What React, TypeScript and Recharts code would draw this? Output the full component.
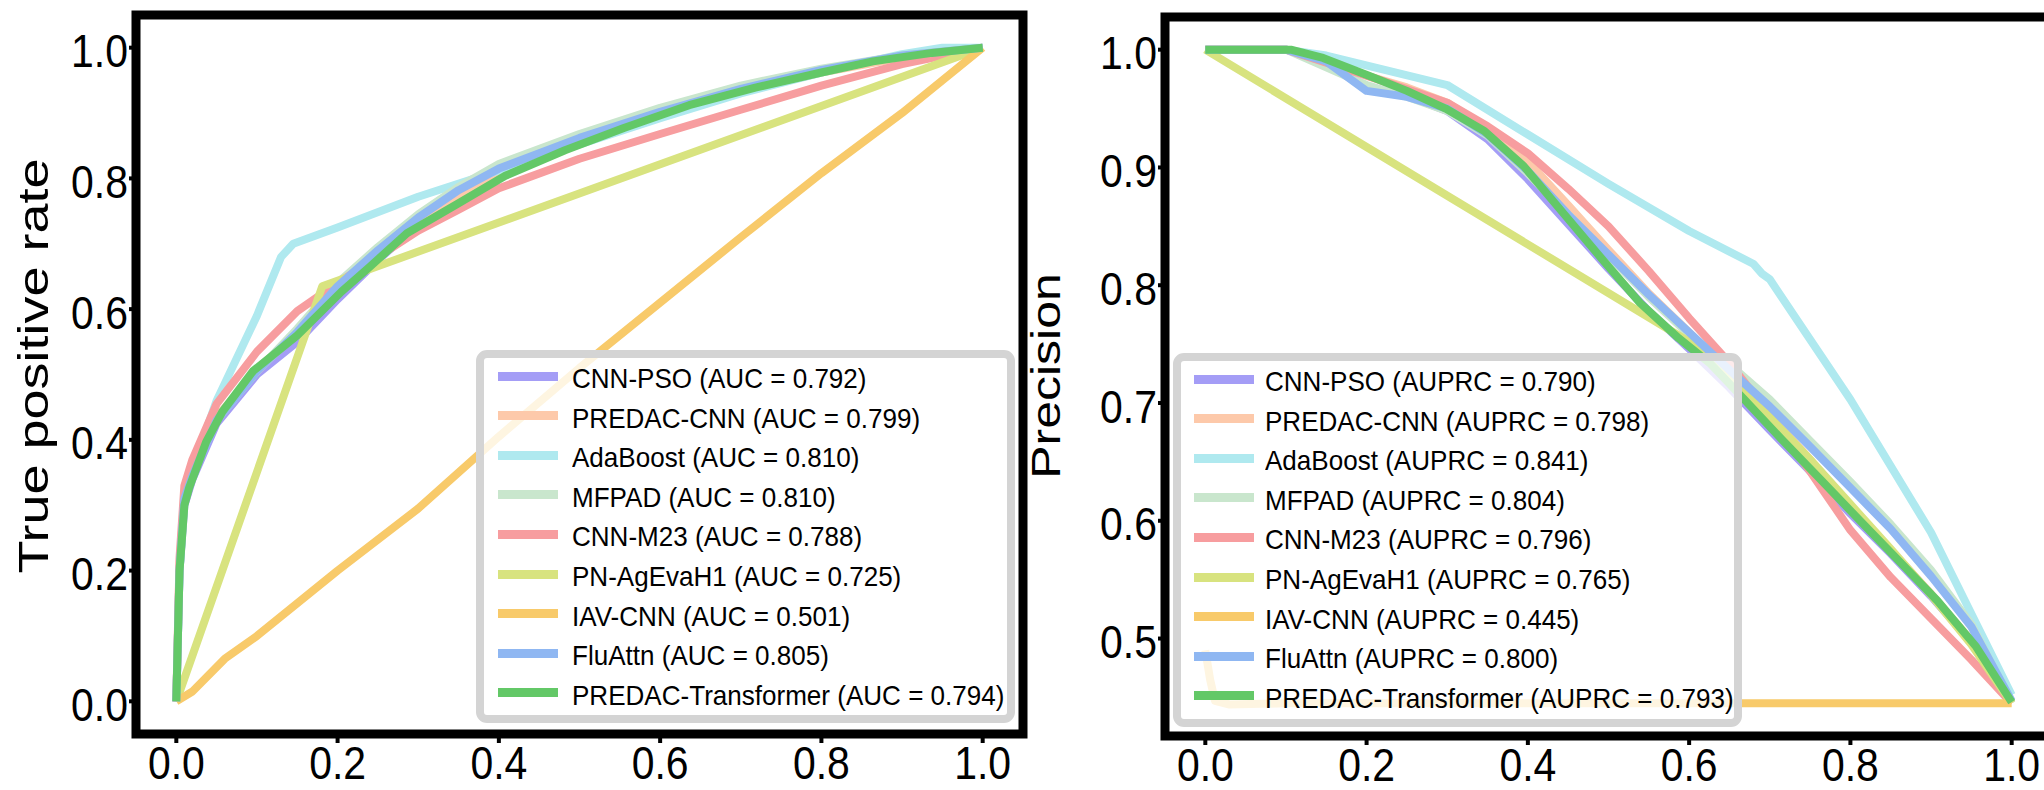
import React from "react";
import {
  LineChart,
  Line,
  XAxis,
  YAxis,
  ReferenceArea,
  Legend,
} from "recharts";

type Pt = [number, number];

// model names, in plotting order (last one drawn on top)
const modelNames = [
  "CNN-PSO",
  "PREDAC-CNN",
  "AdaBoost",
  "MFPAD",
  "CNN-M23",
  "PN-AgEvaH1",
  "IAV-CNN",
  "FluAttn",
  "PREDAC-Transformer",
];
const rocAuc = ["0.792", "0.799", "0.810", "0.810", "0.788", "0.725", "0.501", "0.805", "0.794"];
const prcAuprc = ["0.790", "0.798", "0.841", "0.804", "0.796", "0.765", "0.445", "0.800", "0.793"];
const modelColors = [
  "#a49df6",
  "#fdc9aa",
  "#afe9ef",
  "#c9e6cd",
  "#f79d9f",
  "#d8e37f",
  "#f8ca6a",
  "#8fb7f2",
  "#63c867",
];

const xTicks = [0, 0.2, 0.4, 0.6, 0.8, 1.0];
const rocTicks = [0, 0.2, 0.4, 0.6, 0.8, 1.0];
const prcTicks = [0.5, 0.6, 0.7, 0.8, 0.9, 1.0];

// ROC: [false positive rate, true positive rate]
const rocCnnPso: Pt[] = [[0,0],[0.004,0.2],[0.01,0.3],[0.02,0.34],[0.05,0.425],[0.1,0.5],[0.15,0.55],[0.2,0.615],[0.25,0.675],[0.3,0.73],[0.35,0.77],[0.4,0.808],[0.5,0.856],[0.6,0.9],[0.7,0.936],[0.8,0.965],[0.9,0.986],[1,1]];
const rocPredacCnn: Pt[] = [[0,0],[0.004,0.21],[0.01,0.31],[0.02,0.35],[0.05,0.435],[0.1,0.505],[0.15,0.565],[0.2,0.625],[0.25,0.68],[0.3,0.73],[0.35,0.772],[0.4,0.808],[0.5,0.855],[0.6,0.895],[0.7,0.932],[0.8,0.962],[0.9,0.985],[1,1]];
const rocAdaBoost: Pt[] = [[0,0],[0.004,0.2],[0.01,0.32],[0.05,0.46],[0.1,0.59],[0.13,0.68],[0.145,0.7],[0.2,0.725],[0.3,0.772],[0.4,0.812],[0.5,0.852],[0.6,0.892],[0.7,0.93],[0.8,0.962],[0.9,0.99],[0.95,1],[1,1]];
const rocMfpad: Pt[] = [[0,0],[0.004,0.2],[0.01,0.31],[0.02,0.35],[0.05,0.43],[0.1,0.505],[0.15,0.57],[0.2,0.64],[0.25,0.695],[0.3,0.745],[0.35,0.787],[0.4,0.822],[0.5,0.868],[0.6,0.908],[0.7,0.942],[0.8,0.968],[0.9,0.988],[1,1]];
const rocCnnM23: Pt[] = [[0,0],[0.004,0.22],[0.01,0.33],[0.02,0.37],[0.05,0.455],[0.1,0.535],[0.15,0.597],[0.2,0.64],[0.25,0.68],[0.3,0.72],[0.35,0.752],[0.4,0.785],[0.5,0.83],[0.6,0.868],[0.7,0.905],[0.8,0.942],[0.9,0.975],[1,1]];
const rocPnAgEvaH1: Pt[] = [[0,0],[0.181,0.635],[1,1]];
const rocIavCnn: Pt[] = [[0,0],[0.02,0.015],[0.06,0.065],[0.1,0.1],[0.2,0.2],[0.3,0.295],[0.4,0.405],[0.5,0.51],[0.6,0.61],[0.7,0.71],[0.8,0.808],[0.9,0.9],[0.95,0.95],[1,1]];
const rocFluAttn: Pt[] = [[0,0],[0.004,0.2],[0.01,0.31],[0.02,0.345],[0.05,0.43],[0.1,0.505],[0.15,0.565],[0.2,0.635],[0.25,0.69],[0.3,0.74],[0.35,0.782],[0.4,0.815],[0.5,0.862],[0.6,0.902],[0.7,0.937],[0.8,0.966],[0.9,0.988],[1,1]];
const rocTransformer: Pt[] = [[0,0],[0.004,0.2],[0.01,0.3],[0.016,0.327],[0.037,0.397],[0.057,0.443],[0.095,0.505],[0.15,0.56],[0.205,0.627],[0.24,0.665],[0.286,0.716],[0.35,0.762],[0.408,0.804],[0.482,0.843],[0.555,0.877],[0.636,0.912],[0.718,0.939],[0.8,0.962],[0.864,0.979],[0.937,0.992],[1,1]];

// PR: [recall, precision]
const prcCnnPso: Pt[] = [[0,1],[0.1,1],[0.15,0.99],[0.2,0.966],[0.25,0.961],[0.3,0.948],[0.35,0.924],[0.4,0.89],[0.45,0.852],[0.5,0.814],[0.55,0.778],[0.6,0.746],[0.65,0.713],[0.7,0.677],[0.75,0.642],[0.8,0.606],[0.85,0.572],[0.9,0.536],[0.95,0.497],[1,0.445]];
const prcPredacCnn: Pt[] = [[0,1],[0.1,1],[0.15,0.992],[0.2,0.978],[0.25,0.968],[0.3,0.955],[0.35,0.932],[0.4,0.905],[0.45,0.868],[0.5,0.83],[0.55,0.793],[0.6,0.76],[0.65,0.726],[0.7,0.69],[0.75,0.652],[0.8,0.612],[0.85,0.575],[0.9,0.538],[0.95,0.498],[1,0.445]];
const prcAdaBoost: Pt[] = [[0,1],[0.1,1],[0.15,0.995],[0.3,0.97],[0.4,0.928],[0.5,0.886],[0.6,0.846],[0.68,0.818],[0.69,0.81],[0.7,0.805],[0.8,0.703],[0.9,0.59],[1,0.452]];
const prcMfpad: Pt[] = [[0,1],[0.1,1],[0.15,0.985],[0.2,0.97],[0.25,0.96],[0.3,0.948],[0.35,0.927],[0.4,0.895],[0.45,0.86],[0.5,0.825],[0.55,0.79],[0.6,0.758],[0.65,0.733],[0.7,0.703],[0.75,0.668],[0.8,0.633],[0.85,0.597],[0.9,0.558],[0.95,0.512],[1,0.445]];
const prcCnnM23: Pt[] = [[0,1],[0.1,1],[0.2,0.978],[0.3,0.955],[0.35,0.935],[0.4,0.912],[0.45,0.882],[0.5,0.85],[0.55,0.812],[0.6,0.772],[0.65,0.734],[0.7,0.69],[0.75,0.642],[0.8,0.592],[0.85,0.552],[0.9,0.517],[0.95,0.482],[1,0.445]];
const prcPnAgEvaH1: Pt[] = [[0,1],[0.6,0.752],[0.65,0.72],[0.7,0.688],[0.75,0.652],[0.8,0.614],[0.85,0.576],[0.9,0.537],[0.95,0.495],[1,0.445]];
const prcIavCnn: Pt[] = [[0,0.49],[0.006,0.465],[0.012,0.447],[0.03,0.444],[0.1,0.445],[1,0.445]];
const prcFluAttn: Pt[] = [[0,1],[0.1,1],[0.15,0.99],[0.2,0.965],[0.25,0.96],[0.3,0.95],[0.35,0.928],[0.4,0.897],[0.45,0.86],[0.5,0.826],[0.55,0.792],[0.6,0.76],[0.65,0.728],[0.7,0.697],[0.75,0.663],[0.8,0.628],[0.85,0.593],[0.9,0.553],[0.95,0.51],[1,0.447]];
const prcTransformer: Pt[] = [[0,1],[0.106,1],[0.146,0.993],[0.202,0.978],[0.25,0.965],[0.298,0.95],[0.346,0.931],[0.395,0.901],[0.443,0.862],[0.491,0.823],[0.539,0.785],[0.587,0.755],[0.627,0.733],[0.667,0.704],[0.715,0.669],[0.763,0.635],[0.812,0.6],[0.86,0.566],[0.908,0.532],[0.956,0.493],[1,0.446]];

const rocSeries = [rocCnnPso, rocPredacCnn, rocAdaBoost, rocMfpad, rocCnnM23, rocPnAgEvaH1, rocIavCnn, rocFluAttn, rocTransformer];
const prcSeries = [prcCnnPso, prcPredacCnn, prcAdaBoost, prcMfpad, prcCnnM23, prcPnAgEvaH1, prcIavCnn, prcFluAttn, prcTransformer];

const FONT = "'Liberation Sans', Arial, Helvetica, sans-serif";
const toRows = (pts: Pt[]) => pts.map(([x, y]) => ({ x, y }));

const XTick = (props: any) => {
  const { x, y, payload } = props;
  return (
    <g transform={`translate(${x},${y}) scale(0.89,1)`}>
      <text x={0} y={0} dy="0.71em" textAnchor="middle" fontSize={46} fontFamily={FONT} fill="#000">
        {Number(payload.value).toFixed(1)}
      </text>
    </g>
  );
};

const YTick = (props: any) => {
  const { x, y, payload } = props;
  return (
    <g transform={`translate(${x},${y + 3}) scale(0.89,1)`}>
      <text x={0} y={0} dy="0.36em" textAnchor="end" fontSize={46} fontFamily={FONT} fill="#000">
        {Number(payload.value).toFixed(1)}
      </text>
    </g>
  );
};

// rotated axis title, centred at (cx, cy) in chart coordinates
const yTitle = (text: string, cx: number, cy: number, size: number) => () => (
  <text
    transform={`translate(${cx},${cy}) rotate(-90) scale(1,0.8)`}
    textAnchor="middle"
    dominantBaseline="central"
    fontSize={size}
    fontFamily={FONT}
    fill="#000"
  >
    {text}
  </text>
);

function LegendBox({ metric, scores, left, top, width, height, swatchGap, textGap }: any) {
  return (
    <div
      style={{
        position: "absolute",
        left,
        top,
        width,
        height,
        boxSizing: "border-box",
        border: "8px solid #d4d4d4",
        borderRadius: 11,
        background: "rgba(255,255,255,0.8)",
        fontFamily: FONT,
      }}
    >
      {modelNames.map((name, i) => (
        <div
          key={name}
          style={{
            position: "absolute",
            left: swatchGap,
            top: 18 + i * 39.6 - 20,
            height: 40,
            display: "flex",
            alignItems: "center",
            whiteSpace: "nowrap",
          }}
        >
          <div style={{ width: 60, height: 9, background: modelColors[i] }} />
          <span
            style={{
              marginLeft: textGap,
              fontSize: 28,
              lineHeight: "28px",
              paddingTop: 6,
              color: "#000",
              display: "inline-block",
              transform: "scaleX(0.93)",
              transformOrigin: "left center",
            }}
          >
            {name} ({metric} = {scores[i]})
          </span>
        </div>
      ))}
    </div>
  );
}

export default function App() {
  return (
    <div
      style={{
        position: "absolute",
        left: 0,
        top: 0,
        width: 2044,
        height: 790,
        overflow: "hidden",
        background: "#fff",
      }}
    >
      {/* ROC */}
      <div style={{ position: "absolute", left: 0, top: 0 }}>
        <LineChart width={1050} height={790} margin={{ top: 15, right: 27, bottom: 0, left: 0 }}>
          <XAxis
            type="number"
            dataKey="x"
            domain={[-0.05, 1.05]}
            ticks={xTicks}
            allowDataOverflow
            height={56}
            axisLine={false}
            tickSize={9}
            tickMargin={3}
            tickLine={{ stroke: "#000", strokeWidth: 4 }}
            tick={<XTick />}
          />
          <YAxis
            type="number"
            domain={[-0.05, 1.05]}
            ticks={rocTicks}
            allowDataOverflow
            width={136}
            axisLine={false}
            tickSize={7}
            tickMargin={1}
            tickLine={{ stroke: "#000", strokeWidth: 4 }}
            tick={<YTick />}
            label={{ content: yTitle("True positive rate", 33, 366, 54) }}
          />
          <ReferenceArea
            x1={-0.05}
            x2={1.05}
            y1={-0.05}
            y2={1.05}
            ifOverflow="visible"
            fill="none"
            fillOpacity={0}
            stroke="#000"
            strokeWidth={9}
          />
          {rocSeries.map((pts, i) => (
            <Line
              key={modelNames[i]}
              data={toRows(pts)}
              dataKey="y"
              name={modelNames[i]}
              type="linear"
              stroke={modelColors[i]}
              strokeWidth={8}
              strokeLinejoin="round"
              dot={false}
              isAnimationActive={false}
            />
          ))}
          <Legend
            layout="vertical"
            align="center"
            verticalAlign="middle"
            wrapperStyle={{ left: 0, top: 0, width: 0, height: 0 }}
            content={() => (
              <LegendBox
                metric="AUC"
                scores={rocAuc}
                left={476}
                top={350}
                width={539}
                height={373}
                swatchGap={14}
                textGap={14}
              />
            )}
          />
        </LineChart>
      </div>

      {/* PR */}
      <div style={{ position: "absolute", left: 1000, top: 0 }}>
        <LineChart width={1079} height={790} margin={{ top: 17, right: 27, bottom: 0, left: 0 }}>
          <XAxis
            type="number"
            dataKey="x"
            domain={[-0.05, 1.05]}
            ticks={xTicks}
            allowDataOverflow
            height={54}
            axisLine={false}
            tickSize={9}
            tickMargin={3}
            tickLine={{ stroke: "#000", strokeWidth: 4 }}
            tick={<XTick />}
          />
          <YAxis
            type="number"
            domain={[0.41725, 1.02775]}
            ticks={prcTicks}
            allowDataOverflow
            width={165}
            axisLine={false}
            tickSize={7}
            tickMargin={1}
            tickLine={{ stroke: "#000", strokeWidth: 4 }}
            tick={<YTick />}
            label={{ content: yTitle("Precision", 46, 376, 50) }}
          />
          <ReferenceArea
            x1={-0.05}
            x2={1.05}
            y1={0.41725}
            y2={1.02775}
            ifOverflow="visible"
            fill="none"
            fillOpacity={0}
            stroke="#000"
            strokeWidth={9}
          />
          {prcSeries.map((pts, i) => (
            <Line
              key={modelNames[i]}
              data={toRows(pts)}
              dataKey="y"
              name={modelNames[i]}
              type="linear"
              stroke={modelColors[i]}
              strokeWidth={8}
              strokeLinejoin="round"
              dot={false}
              isAnimationActive={false}
            />
          ))}
          <Legend
            layout="vertical"
            align="center"
            verticalAlign="middle"
            wrapperStyle={{ left: 0, top: 0, width: 0, height: 0 }}
            content={() => (
              <LegendBox
                metric="AUPRC"
                scores={prcAuprc}
                left={173}
                top={353}
                width={569}
                height={374}
                swatchGap={13}
                textGap={11}
              />
            )}
          />
        </LineChart>
      </div>
    </div>
  );
}
